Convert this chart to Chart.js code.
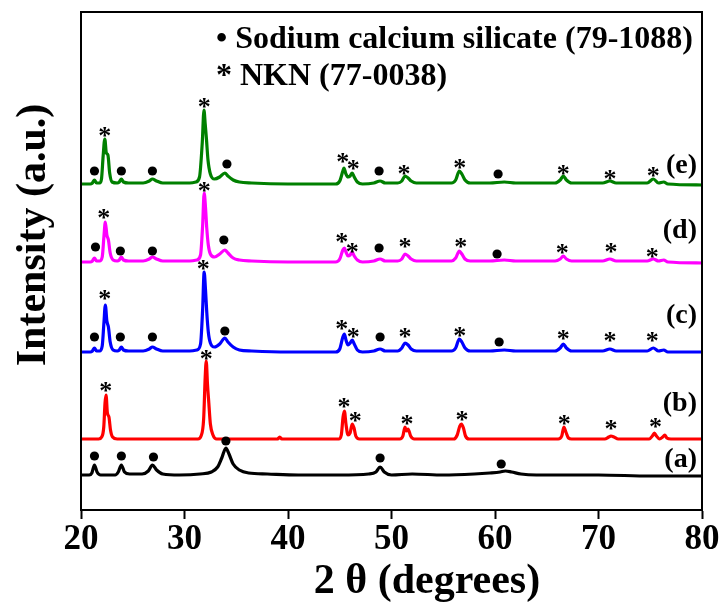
<!DOCTYPE html>
<html>
<head>
<meta charset="utf-8">
<script src="https://cdn.jsdelivr.net/npm/chart.js@4.4.1/dist/chart.umd.min.js"></script>
<style>
  html, body { margin: 0; padding: 0; background: #fff; }
  #wrap { width: 725px; height: 602px; position: relative; }
</style>
</head>
<body>
<div id="wrap"><canvas id="c"></canvas></div>
<script>
// ---- data (2θ in degrees, intensity in a.u. relative to each pattern's baseline) ----
const seriesLabels = ['(a)', '(b)', '(c)', '(d)', '(e)'];
const seriesColors = ['#000000', '#ff0000', '#0000ff', '#ff00ff', '#008000'];
const offsets = [35, 71, 158, 248, 326];
const xTicks = [20, 30, 40, 50, 60, 70, 80];

const seriesA = [
  [20,0],[20.8,0],[21.05,2],[21.3,10],[21.55,3],[21.9,0],[23.3,0],[23.6,3],[23.9,10],[24.2,3],[24.7,1],
  [25.9,1],[26.5,4],[26.9,10],[27.3,5],[27.9,1],[29.5,0],[31.5,1],[32.6,3],[33.2,8],[33.6,17],[34.0,27],
  [34.3,21],[34.7,11],[35.3,5],[36.2,2],[38,1],[41,0],[45,0],[47.8,1],[48.5,3],[48.9,8],[49.3,3],[50,0],
  [52,1],[55,0],[58,1],[59.5,2],[60.5,3],[61.0,4],[61.6,3],[62.5,1],[64,0],[70,0],[75,-1],[80,-1]
];
const seriesB = [
  [20,0],[21.7,0],[22.0,2],[22.2,12],[22.32,36],[22.42,44],[22.55,26],[22.7,22],[22.85,9],[23.05,2],[23.5,0],
  [31.3,0],[31.6,3],[31.85,20],[32.0,62],[32.1,78],[32.22,55],[32.35,36],[32.5,15],[32.75,4],[33.1,0],
  [39.0,0],[39.2,2],[39.4,0],
  [44.9,0],[45.15,4],[45.32,22],[45.45,28],[45.6,15],[45.8,4],[46.0,6],[46.2,15],[46.38,11],[46.55,3],[46.9,0],
  [50.8,0],[51.1,3],[51.3,12],[51.45,8],[51.6,10],[51.85,3],[52.2,0],
  [56.0,0],[56.35,4],[56.6,13],[56.75,15],[56.95,11],[57.15,3],[57.5,0],
  [66.1,0],[66.45,3],[66.65,12],[66.85,7],[67.1,1],[67.4,0],
  [70.6,0],[71.0,2],[71.2,3],[71.5,2],[71.9,0],
  [74.9,0],[75.2,3],[75.4,6],[75.6,3],[75.9,0],[76.2,2],[76.4,4],[76.6,1],[77,0],[80,0]
];
const seriesC = [
  [20,0],[20.9,0],[21.1,1],[21.3,4],[21.5,1],[21.8,1],[22.05,6],[22.22,30],[22.35,47],[22.5,31],[22.65,25],
  [22.82,10],[23.1,2],[23.5,1],[23.7,2],[23.9,5],[24.1,2],[24.6,1],[26.0,1],[26.6,3],[26.9,5],[27.3,3],[27.9,1],
  [30.5,1],[31.2,2],[31.55,8],[31.75,42],[31.9,80],[32.02,64],[32.15,40],[32.3,20],[32.5,9],[32.9,5],[33.4,8],
  [33.9,14],[34.2,10],[34.7,5],[35.3,2],[36.5,1],[40,0],[44.6,0],[45.0,3],[45.3,15],[45.45,18],[45.6,12],
  [45.8,7],[46.0,9],[46.2,12],[46.4,8],[46.7,2],[47.2,0],[48.3,1],[48.9,3],[49.4,1],[50.6,1],[51.0,4],
  [51.3,9],[51.6,7],[51.9,3],[52.4,1],[55.8,1],[56.2,4],[56.55,13],[56.8,10],[57.1,4],[57.6,1],[59.5,1],
  [60.9,2],[62,1],[65.8,1],[66.3,4],[66.6,8],[66.9,4],[67.4,1],[70.4,1],[71.1,3],[71.7,1],[74.7,1],
  [75.3,4],[75.8,1],[76.3,2],[76.7,0],[80,0]
];
const seriesD = [
  [20,0],[20.9,0],[21.1,1],[21.3,4],[21.5,1],[21.8,1],[22.05,5],[22.22,26],[22.35,40],[22.5,27],[22.65,22],
  [22.82,9],[23.1,2],[23.5,1],[23.7,2],[23.9,5],[24.1,2],[24.6,1],[26.0,1],[26.6,3],[26.9,5],[27.3,3],[27.9,1],
  [30.5,1],[31.2,2],[31.55,7],[31.75,36],[31.9,69],[32.02,56],[32.15,34],[32.3,17],[32.5,8],[32.9,5],[33.4,8],
  [33.9,12],[34.2,9],[34.7,4],[35.3,2],[36.5,1],[40,0],[44.6,0],[45.0,3],[45.3,12],[45.45,14],[45.6,10],
  [45.8,6],[46.0,7],[46.2,10],[46.4,6],[46.7,2],[47.2,0],[48.3,1],[48.9,3],[49.4,1],[50.6,1],[51.0,3],
  [51.3,8],[51.6,6],[51.9,3],[52.4,1],[55.8,1],[56.2,4],[56.55,11],[56.8,8],[57.1,3],[57.6,1],[59.5,1],
  [60.9,2],[62,1],[65.8,1],[66.3,3],[66.6,6],[66.9,3],[67.4,1],[70.4,1],[71.1,3],[71.7,1],[74.7,1],
  [75.3,3],[75.8,1],[76.3,2],[76.7,0],[80,-1]
];
const seriesE = [
  [20,0],[20.9,0],[21.1,1],[21.3,4],[21.5,1],[21.8,1],[21.98,5],[22.14,28],[22.3,45],[22.45,31],[22.6,29],
  [22.77,11],[23.0,2],[23.5,1],[23.7,2],[23.9,5],[24.1,2],[24.6,1],[26.0,1],[26.6,3],[26.9,5],[27.3,3],
  [27.9,1],[30.5,1],[31.1,2],[31.45,7],[31.72,42],[31.88,74],[32.0,60],[32.12,45],[32.27,24],[32.5,10],[32.9,5],
  [33.4,7],[33.9,11],[34.2,8],[34.7,4],[35.3,2],[36.5,1],[40,0],[44.6,0],[45.0,3],[45.3,13],[45.4,16],
  [45.6,10],[45.8,7],[46.0,8],[46.2,11],[46.4,7],[46.7,2],[47.2,0],[48.3,1],[48.9,3],[49.4,1],[50.6,1],
  [51.0,3],[51.3,8],[51.6,6],[51.9,3],[52.4,1],[55.8,1],[56.2,4],[56.55,13],[56.8,10],[57.1,4],[57.6,1],
  [59.5,1],[60.9,2],[62,1],[65.8,1],[66.3,4],[66.6,8],[66.9,4],[67.4,1],[70.4,1],[71.1,3],[71.7,1],
  [74.7,1],[75.3,5],[75.8,1],[76.3,2],[76.7,0],[80,-1]
];
const allSeries = [seriesA, seriesB, seriesC, seriesD, seriesE];

// phase markers: [series index, 2θ, height above baseline]
const silicateMarks = [
  [0,21.3,19],[0,23.9,19],[0,27.0,18],[0,34.0,34],[0,48.9,17],[0,60.6,11],
  [2,21.3,15],[2,23.8,15],[2,26.9,15],[2,33.9,21],[2,48.9,15],[2,60.4,10],
  [3,21.4,15],[3,23.8,11],[3,26.9,11],[3,33.8,22],[3,48.8,14],[3,60.2,8],
  [4,21.3,13],[4,23.9,13],[4,26.9,13],[4,34.1,20],[4,48.8,13],[4,60.3,10]
];
const nknMarks = [
  [1,22.4,52],[1,32.1,84],[1,45.4,36],[1,46.5,22],[1,51.5,19],[1,56.8,23],[1,66.7,19],[1,71.2,14],[1,75.5,16],
  [2,22.3,57],[2,31.8,87],[2,45.2,27],[2,46.3,19],[2,51.3,19],[2,56.6,20],[2,66.6,17],[2,71.1,15],[2,75.2,15],
  [3,22.2,48],[3,31.9,75],[3,45.2,24],[3,46.2,14],[3,51.3,19],[3,56.7,19],[3,66.5,13],[3,71.2,14],[3,75.2,9],
  [4,22.3,52],[4,31.9,81],[4,45.3,26],[4,46.3,19],[4,51.2,14],[4,56.6,20],[4,66.6,14],[4,71.1,9],[4,75.3,12]
];
const legendLines = ['\u2022 Sodium calcium silicate (79-1088)', '* NKN (77-0038)'];
const xTitle = '2 \u03b8 (degrees)';
const yTitle = 'Intensity (a.u.)';

// ---- chart ----
const SERIF = '"Liberation Serif", "Times New Roman", serif';

const datasets = allSeries.map((s, i) => ({
  label: seriesLabels[i],
  data: s.map(([x, y]) => ({ x: x, y: y + offsets[i] })),
  borderColor: seriesColors[i],
  borderWidth: 3.2,
  pointRadius: 0,
  cubicInterpolationMode: 'monotone',
  borderJoinStyle: 'round',
  borderCapStyle: 'round',
  fill: false
}));

const overlay = {
  id: 'overlay',
  afterDatasetsDraw(chart) {
    const { ctx, chartArea: ca, scales } = chart;
    const xs = scales.x, ys = scales.y;
    ctx.save();
    // frame
    ctx.strokeStyle = '#000';
    ctx.lineWidth = 2;
    ctx.strokeRect(ca.left, ca.top, ca.right - ca.left, ca.bottom - ca.top);

    // silicate dots
    ctx.fillStyle = '#000';
    silicateMarks.forEach(([s, xv, h]) => {
      const px = xs.getPixelForValue(xv), py = ys.getPixelForValue(offsets[s] + h);
      ctx.beginPath();
      ctx.arc(px, py, 4.6, 0, Math.PI * 2);
      ctx.fill();
    });

    // NKN asterisks
    ctx.font = 'bold 26px ' + SERIF;
    ctx.textAlign = 'center';
    ctx.textBaseline = 'alphabetic';
    const m = ctx.measureText('*');
    const dy = (m.actualBoundingBoxAscent - m.actualBoundingBoxDescent) / 2;
    nknMarks.forEach(([s, xv, h]) => {
      const px = xs.getPixelForValue(xv), py = ys.getPixelForValue(offsets[s] + h);
      ctx.fillText('*', px, py + dy);
    });

    // legend text
    ctx.textAlign = 'left';
    ctx.font = 'bold 32px ' + SERIF;
    ctx.fillText(legendLines[0], 216, 48);
    ctx.fillText(legendLines[1], 216, 85);

    // series labels
    ctx.font = 'bold 28px ' + SERIF;
    ctx.textAlign = 'right';
    ctx.textBaseline = 'middle';
    const labelY = [460, 404, 316, 231, 166];
    seriesLabels.forEach((t, i) => ctx.fillText(t, 697, labelY[i]));

    // axis titles
    ctx.textBaseline = 'alphabetic';
    ctx.font = 'bold 42px ' + SERIF;
    ctx.textAlign = 'center';
    ctx.fillText(xTitle, 427, 593);
    ctx.save();
    ctx.translate(45, 235);
    ctx.rotate(-Math.PI / 2);
    ctx.fillText(yTitle, 0, 0);
    ctx.restore();

    ctx.restore();
  }
};

new Chart(document.getElementById('c'), {
  type: 'line',
  data: { datasets },
  options: {
    responsive: true,
    maintainAspectRatio: false,
    animation: false,
    events: [],
    layout: { padding: { top: 12, right: 23, left: 0, bottom: 0 } },
    plugins: { legend: { display: false }, tooltip: { enabled: false } },
    scales: {
      x: {
        type: 'linear',
        min: 20, max: 80,
        afterBuildTicks: (s) => { s.ticks = xTicks.map(v => ({ value: v })); },
        ticks: {
          font: { family: SERIF, size: 35, weight: 'bold' },
          color: '#000',
          padding: 0,
          maxRotation: 0,
          autoSkip: false
        },
        grid: { display: true, drawOnChartArea: false, drawTicks: true, tickLength: 9, tickWidth: 2, tickColor: '#000' },
        border: { display: true, color: '#000', width: 2 },
        afterFit: (s) => { s.height = 92; }
      },
      y: {
        type: 'linear',
        min: 0, max: 498,
        ticks: { display: false },
        grid: { display: false },
        border: { display: true, color: '#000', width: 2 },
        afterFit: (s) => { s.width = 81; }
      }
    }
  },
  plugins: [overlay]
});
</script>
</body>
</html>
